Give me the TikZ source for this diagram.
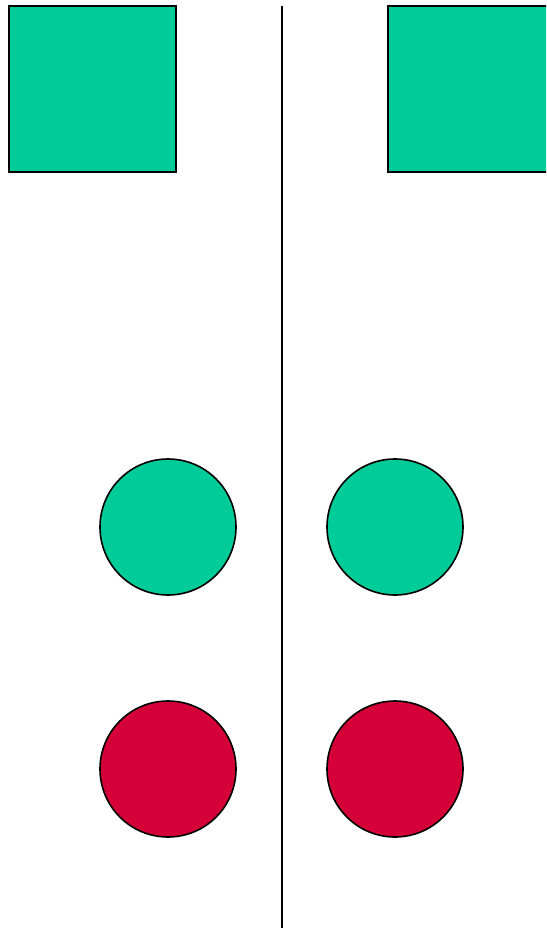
\documentclass[tikz,border=0pt]{standalone}
\usetikzlibrary{calc}
\definecolor{tgreen}{HTML}{00CC99}
\definecolor{tred}{HTML}{D40037}
\tikzset{
  shapebox/.style={draw=black, line width=1.6pt, fill=tgreen},
  gdot/.style={circle, draw=black, line width=1.6pt, fill=tgreen, minimum size=136pt, inner sep=0pt},
  rdot/.style={circle, draw=black, line width=1.6pt, fill=tred, minimum size=136pt, inner sep=0pt},
  divider/.style={draw=black, line width=1.8pt}
}
\begin{document}
\begin{tikzpicture}[x=1pt,y=-1pt]
\useasboundingbox (0,0) rectangle (546,928);
\begin{scope}
\clip (0,0) rectangle (546,928);
\draw[shapebox] (9,6) rectangle (176,172);
\draw[shapebox] (388,6) rectangle (560,172);
\coordinate (top) at (282,6);
\coordinate (bot) at (282,930);
\draw[divider] (top) -- (bot);
\node[gdot] (g1) at (168,527) {};
\node[gdot] (g2) at (395,527) {};
\node[rdot] (r1) at (168,769) {};
\node[rdot] (r2) at (395,769) {};
\end{scope}
\end{tikzpicture}
\end{document}
